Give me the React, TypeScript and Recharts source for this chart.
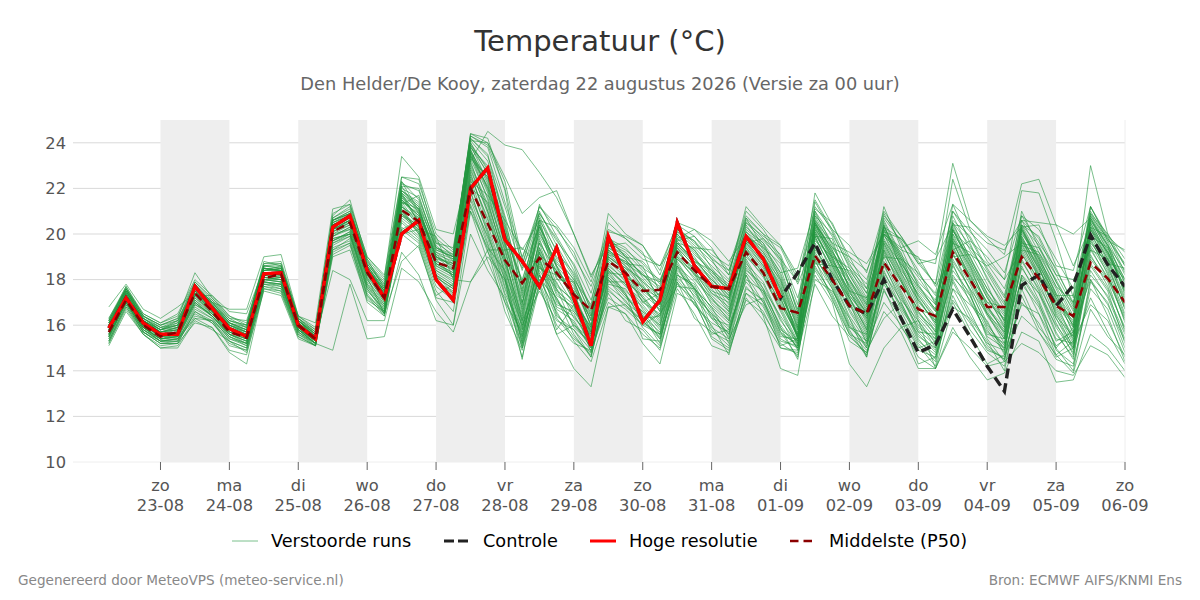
import React from "react";
import { LineChart, Line, XAxis, YAxis, CartesianGrid, ReferenceArea } from "recharts";

const dayNames = ["zo","ma","di","wo","do","vr","za","zo","ma","di","wo","do","vr","za","zo"];
const dayDates = ["23-08","24-08","25-08","26-08","27-08","28-08","29-08","30-08","31-08","01-09","02-09","03-09","04-09","05-09","06-09"];
const tickSteps = [3,7,11,15,19,23,27,31,35,39,43,47,51,55,59];
const bandStarts = [3,11,19,27,35,43,51];
const yTicks = [10,12,14,16,18,20,22,24];
const gridValues = [12,14,16,18,20,22,24];

const hres = [15.87,17.2,16.1,15.6,15.6,17.7,16.75,15.85,15.5,18.25,18.3,16.0,15.4,20.3,20.8,18.4,17.2,20.0,20.6,18.0,
  17.1,22.0,22.9,19.75,18.8,17.7,19.4,17.2,15.1,19.9,18.1,16.15,17.1,20.5,18.6,17.7,17.6,19.9,18.9,17.2];
const control = [15.87,17.2,16.1,15.6,15.6,17.7,16.75,15.85,15.5,18.25,18.3,16.0,15.4,20.3,20.8,18.4,17.2,20.0,20.6,18.0,
  17.1,22.0,22.9,19.75,18.8,17.7,19.4,17.2,15.1,19.9,18.1,16.15,17.1,20.5,18.6,17.7,17.6,19.9,18.9,17.2,
  18.3,19.6,18.0,16.85,16.5,18.0,16.3,14.8,15.15,16.7,15.5,14.2,13.1,17.75,18.2,16.85,17.75,19.95,18.65,17.7];
const p50 = [15.7,17.1,16.0,15.5,15.7,17.4,16.6,15.7,15.45,18.05,18.25,16.0,15.4,20.1,20.5,18.3,17.2,21.05,20.55,18.75,
  18.5,22.0,20.45,18.85,17.85,18.95,18.3,17.35,16.65,18.8,18.3,17.5,17.55,19.2,18.4,17.7,17.6,19.2,18.3,16.75,
  16.55,19.05,18.0,16.85,16.5,18.75,17.7,16.7,16.4,19.2,18.0,16.8,16.8,19.0,18.05,16.85,16.4,18.75,18.05,17.0];

const m01 = [15.3,16.9,15.7,15.2,15.3,16.4,16.2,15.1,14.9,17.7,17.6,15.6,15.2,14.9,17.8,15.4,15.5,18.5,17.9,16.6,
  15.7,17.9,19.0,18.0,16.0,17.5,16.2,15.8,14.6,18.0,17.0,16.4,15.2,18.6,17.2,16.3,16.0,17.9,17.0,15.6,
  15.2,18.6,17.3,15.6,15.2,17.0,16.0,14.6,14.1,15.7,15.0,14.2,14.4,15.2,14.8,14.0,13.8,15.1,14.7,13.7];
const m02 = [15.5,17.0,15.8,15.3,15.4,16.5,16.1,15.3,15.0,17.9,17.7,15.8,15.4,18.4,18.0,16.2,16.2,19.2,18.2,16.2,
  16.0,20.0,18.4,17.2,15.0,17.8,15.6,16.0,15.2,17.2,16.7,16.0,16.5,17.7,17.6,16.8,15.4,16.9,17.2,15.0,
  14.8,17.8,16.4,15.5,14.8,16.6,15.7,14.1,14.1,16.8,16.3,15.2,14.9,16.9,16.5,14.7,15.3,16.9,16.2,14.6];
const m03 = [16.8,17.8,16.7,16.3,16.8,17.4,17.0,16.7,16.7,19.0,19.1,16.4,16.1,21.1,21.3,19.0,18.1,23.4,22.5,20.2,
  20.0,23.2,24.5,23.9,23.7,22.7,21.6,20.0,18.2,19.5,19.6,18.9,18.6,19.8,20.2,19.7,18.8,19.9,19.4,18.3,
  18.5,21.1,20.5,18.8,18.0,20.3,19.8,18.7,18.9,20.4,20.3,19.6,19.3,20.6,20.5,20.4,20.0,20.7,19.5,18.4];
const m04 = [16.2,17.7,16.4,16.0,16.3,18.3,17.2,16.4,16.0,18.8,18.6,16.4,15.8,20.8,21.5,18.8,17.9,22.5,22.4,19.7,
  19.0,24.4,24.0,22.5,20.9,21.6,21.9,20.0,18.1,19.8,19.0,18.8,17.9,19.6,19.4,19.3,18.4,20.5,19.9,19.4,
  17.8,19.7,19.0,18.5,17.6,20.0,19.3,19.0,17.7,19.0,19.1,18.6,19.0,19.6,19.4,18.2,18.0,19.3,18.9,18.0];
const m05 = [15.9,17.4,16.2,15.7,15.9,17.6,16.8,16.0,15.7,18.4,18.5,16.2,15.5,20.5,20.9,18.5,17.4,22.3,21.0,19.3,
  19.0,24.2,23.5,20.5,17.8,20.0,18.8,17.8,16.0,19.2,18.6,17.9,17.0,19.6,18.9,18.2,17.6,20.0,19.2,17.9,
  15.8,20.6,19.6,18.0,16.8,20.2,18.9,17.2,16.0,20.2,18.8,17.3,15.9,20.4,19.0,17.4,15.6,20.7,19.4,18.0];
const m06 = [15.7,17.2,16.0,15.5,15.6,17.3,16.6,15.8,15.5,18.1,18.0,16.0,15.3,20.0,20.2,18.0,16.9,21.8,20.5,18.6,
  18.2,23.6,21.9,19.2,16.5,19.6,17.5,16.9,15.6,18.6,18.0,17.2,16.2,19.0,18.0,17.2,16.4,19.5,18.6,17.2,
  15.4,20.3,18.9,17.2,16.0,19.6,18.2,16.6,15.5,19.6,18.2,16.5,15.2,19.7,18.3,16.5,15.0,20.2,18.8,17.0];
const m07 = [16.0,17.5,16.3,15.8,16.0,17.7,16.9,16.1,15.8,18.5,18.4,16.2,15.6,20.6,21.0,18.9,17.6,22.0,21.6,19.5,
  18.8,24.0,22.8,20.1,17.0,20.6,18.2,17.5,15.3,19.4,18.9,17.8,16.6,19.8,19.0,17.9,16.9,19.8,18.9,17.6,
  15.5,20.5,19.3,17.6,16.3,20.0,18.6,16.9,15.7,20.0,18.5,16.9,15.6,20.1,18.7,17.0,15.3,20.5,19.1,17.5];
const m08 = [15.6,17.1,15.9,15.4,15.5,17.1,16.5,15.6,15.3,18.0,17.9,15.9,15.2,19.8,20.0,17.8,16.7,21.3,20.3,18.4,
  18.0,23.0,21.2,18.6,15.6,19.2,17.0,16.5,15.1,18.2,17.5,16.8,15.9,18.8,17.6,16.8,16.1,19.0,18.2,16.6,
  15.1,19.8,18.5,16.9,15.6,19.2,17.7,16.2,15.2,19.1,17.8,16.1,14.9,19.3,17.9,16.1,14.7,19.7,18.4,16.5];
const m09 = [16.1,17.6,16.4,15.9,16.2,17.9,17.1,16.2,15.9,18.6,18.7,16.3,15.7,20.7,21.2,18.7,17.7,22.2,21.9,19.8,
  19.2,24.3,23.8,21.4,19.0,20.9,19.8,18.4,16.8,19.6,19.2,18.4,17.6,20.1,19.4,18.6,17.9,20.3,19.6,18.5,
  16.3,21.4,20.1,18.5,17.2,21.2,19.4,17.7,16.7,21.3,19.6,18.0,16.9,21.0,19.4,17.9,16.4,21.2,19.8,18.6];
const m10 = [15.2,16.8,15.6,15.1,15.2,16.1,15.9,14.8,14.3,17.6,17.4,15.5,15.1,19.2,19.6,17.0,16.4,20.2,19.6,17.3,
  17.8,22.4,20.2,18.0,14.5,18.7,16.4,15.8,14.9,17.6,16.8,16.2,15.5,18.2,17.8,16.3,15.5,18.6,17.6,15.9,
  14.5,19.2,18.0,16.3,14.6,18.7,17.0,15.4,14.5,18.4,17.4,15.4,14.4,18.2,17.4,15.6,14.6,19.1,17.7,15.8];
const m11 = [16.3,17.7,16.5,16.1,16.5,18.0,17.3,16.4,16.1,18.7,18.8,16.4,15.9,20.9,21.3,19.0,18.2,22.5,22.2,20.0,
  19.3,24.1,24.0,22.3,18.9,21.2,20.2,19.2,17.4,20.1,19.9,19.5,18.2,20.3,19.6,19.0,18.2,21.0,20.2,19.0,
  16.9,21.8,20.4,19.0,17.6,20.8,19.9,18.8,17.8,22.4,20.2,18.8,18.0,21.9,21.8,19.7,17.2,23.0,20.0,18.6];
const m12 = [15.8,17.3,16.1,15.6,15.8,17.5,16.7,15.9,15.6,18.3,18.2,16.0,15.4,20.2,20.6,18.3,17.2,21.5,20.8,19.1,
  18.5,23.9,22.3,19.7,17.2,19.9,18.6,17.2,15.8,18.9,18.3,17.5,16.9,19.4,18.6,17.5,17.2,19.6,18.8,17.4,
  15.7,20.4,19.0,17.4,16.6,19.8,18.4,17.4,16.4,19.9,18.4,17.0,16.3,19.9,18.5,17.0,16.2,20.4,19.0,17.2];
const m13 = [15.4,17.0,15.8,15.3,15.4,16.9,16.4,15.5,15.2,17.9,17.8,15.8,15.2,19.6,19.9,17.6,16.6,21.0,20.1,18.1,
  17.6,22.9,20.9,18.2,15.2,18.9,16.7,16.2,15.0,18.0,17.2,16.6,16.0,18.5,17.4,16.5,15.8,18.4,17.8,16.2,
  15.2,19.6,18.2,16.6,15.4,19.0,17.4,15.8,15.1,18.8,17.6,15.9,15.0,18.8,17.6,15.9,14.8,19.3,18.1,16.2];
const m14 = [16.0,17.4,16.2,15.7,15.9,17.8,16.9,16.0,15.7,18.5,18.4,16.1,15.5,20.4,20.8,18.6,17.5,20.2,20.6,18.7,
  18.3,22.0,21.4,18.9,17.8,19.1,18.4,17.6,16.4,19.0,18.4,17.0,17.4,19.4,18.2,17.8,16.7,19.3,18.4,16.9,
  15.6,20.0,18.8,17.8,16.5,19.1,17.9,16.7,16.4,19.3,18.2,17.0,16.8,19.1,18.0,16.9,16.4,19.0,18.0,17.0];
const m15 = [15.5,17.1,15.9,15.4,15.5,17.2,16.5,15.7,15.4,18.0,18.1,15.9,15.3,19.9,20.3,18.1,16.5,18.8,19.5,17.1,
  16.0,21.0,19.4,18.4,16.2,18.0,17.2,16.0,15.4,18.4,17.8,16.9,16.0,18.9,18.3,16.9,16.2,18.9,17.6,16.4,
  15.3,19.3,18.3,17.2,15.8,18.6,17.2,15.9,15.4,18.2,17.1,15.6,15.4,18.5,17.4,16.0,15.0,18.4,17.2,15.4];
const m16 = [16.2,17.6,16.3,15.9,16.1,17.8,17.0,16.2,16.0,18.4,18.6,16.3,15.6,20.6,20.9,18.4,17.1,21.8,21.2,18.9,
  18.7,23.4,22.1,20.0,18.5,20.3,19.0,18.0,16.9,20.9,20.0,19.5,18.4,20.5,20.2,19.4,18.2,21.2,20.3,19.5,
  18.0,20.9,19.6,19.2,18.7,20.0,19.4,19.7,19.1,21.3,20.6,19.9,19.5,20.3,20.4,18.6,18.4,21.2,19.7,19.3];
const m17 = [15.9,17.2,16.0,15.6,15.7,17.4,16.6,15.8,15.6,18.2,18.3,16.0,15.4,20.3,20.6,18.4,17.3,20.8,20.4,18.2,
  17.4,21.5,19.5,17.0,14.6,17.7,15.6,14.1,13.3,16.8,16.5,15.2,14.3,17.4,17.0,15.5,15.0,17.4,16.9,15.4,
  15.0,18.2,17.0,14.3,13.3,15.0,15.9,16.2,14.1,15.9,14.6,13.6,13.9,15.7,15.3,13.5,13.6,15.6,15.0,14.0];
const m18 = [15.7,17.2,16.0,15.5,15.6,17.2,16.6,15.7,15.5,18.1,18.1,15.9,15.3,20.1,20.4,18.2,17.0,21.2,20.7,18.9,
  18.1,23.2,21.0,18.4,15.9,19.2,17.3,16.8,15.4,18.5,17.8,16.4,15.7,18.7,17.6,15.6,15.8,18.2,16.4,14.1,
  13.8,18.0,17.5,16.3,15.0,18.0,16.3,15.0,15.3,18.9,17.6,16.5,15.7,18.0,16.5,15.1,15.6,18.7,17.6,15.9];
const m19 = [15.8,17.3,16.1,15.6,15.7,17.6,16.7,15.9,15.5,18.3,18.2,16.1,15.4,20.2,20.6,18.4,17.4,21.4,20.9,19.2,
  18.9,24.0,22.6,19.5,16.9,20.2,18.1,16.9,15.2,19.1,18.5,18.0,17.1,19.7,18.7,18.0,17.3,19.9,19.0,17.8,
  15.4,20.7,19.2,17.9,16.7,20.4,18.7,17.5,16.6,20.5,18.9,17.6,16.5,20.3,18.9,17.6,15.9,20.6,19.3,17.4];
const m20 = [15.6,17.1,15.9,15.4,15.6,17.0,16.4,15.6,15.4,18.0,18.0,15.9,15.3,19.7,20.1,17.9,16.8,21.1,20.0,18.3,
  17.8,22.6,20.6,18.7,16.0,18.5,17.9,16.3,15.6,18.3,17.3,16.3,16.4,18.6,17.9,16.7,15.9,18.8,17.3,15.8,
  15.3,18.7,18.6,17.0,15.2,18.3,17.1,16.2,15.0,18.7,17.0,15.7,15.2,18.6,17.1,15.3,15.7,19.5,18.3,16.1];
const m21 = [16.0,17.5,16.2,15.8,16.1,17.7,17.0,16.1,15.8,18.6,18.5,16.2,15.6,20.6,20.9,18.7,17.7,21.9,21.3,19.4,
  19.1,24.4,24.2,21.9,17.6,21.0,19.5,18.2,16.4,19.3,18.7,18.6,16.9,20.0,19.2,18.3,17.7,20.7,19.4,18.7,
  16.7,21.0,19.9,18.2,16.9,20.6,19.1,18.1,17.0,20.8,19.3,18.3,17.0,20.6,19.8,18.2,16.8,20.9,19.6,17.8];
const m22 = [15.5,17.0,15.8,15.3,15.3,16.7,16.3,15.4,15.1,17.8,17.7,15.7,15.2,19.4,19.7,17.4,16.5,20.6,19.9,17.9,
  17.5,22.2,20.0,17.6,15.4,18.4,17.2,15.6,14.6,17.8,17.6,16.5,15.4,18.1,17.3,16.5,15.2,18.2,17.0,15.5,
  15.4,19.0,17.8,16.0,15.0,18.2,16.7,15.6,14.8,18.0,16.6,15.1,14.5,18.2,17.0,14.9,14.3,17.6,16.7,14.8];
const m23 = [16.1,17.5,16.3,15.8,16.0,17.6,16.8,16.0,15.8,18.4,18.4,16.1,15.5,20.4,20.7,18.6,17.6,21.7,21.1,19.0,
  18.6,23.7,22.0,19.9,18.0,20.4,18.0,17.9,16.2,19.5,19.1,18.1,17.3,19.9,19.3,18.4,17.5,20.1,19.2,18.1,
  16.1,20.2,19.2,18.2,17.0,19.9,19.2,17.0,16.2,19.6,19.2,17.8,16.1,19.5,19.2,18.0,16.6,19.9,19.4,17.6];
const m24 = [15.3,16.9,15.7,15.2,15.2,16.6,16.2,15.3,15.0,17.8,17.6,15.7,15.1,19.3,19.8,17.3,16.6,20.8,20.2,18.0,
  17.3,21.6,19.9,18.0,15.2,18.2,16.9,16.6,15.8,18.1,17.4,15.4,15.3,18.3,16.9,16.1,15.7,18.0,17.5,16.0,
  15.0,19.5,17.7,15.9,15.3,17.9,16.9,15.3,14.7,17.6,16.9,16.2,14.7,19.8,18.6,16.4,15.5,18.2,17.3,15.6];
const m25 = [15.7,17.2,16.1,15.5,15.7,17.4,16.6,15.8,15.5,18.2,18.1,16.0,15.4,20.1,20.5,18.2,17.2,21.6,20.7,18.8,
  18.4,23.3,21.6,19.3,16.7,19.4,17.7,17.1,15.9,18.8,18.1,17.7,16.6,19.2,18.5,17.6,16.6,19.4,18.5,17.1,
  15.6,20.1,18.7,17.5,16.2,19.3,18.0,16.4,15.6,19.4,18.0,16.6,15.5,19.5,18.2,16.7,15.4,19.9,18.5,16.8];
const m26 = [16.2,17.6,16.4,16.0,16.3,17.5,17.1,16.3,15.9,18.7,18.7,16.3,15.8,20.7,21.1,18.8,17.8,20.0,20.2,19.9,
  18.0,17.9,19.3,19.3,19.4,18.5,18.2,17.5,16.3,19.3,18.7,18.2,17.5,19.5,18.8,18.4,17.8,20.2,19.6,18.0,
  16.0,20.1,18.6,18.4,17.4,19.7,18.7,17.7,16.9,20.1,19.4,18.7,17.6,20.0,19.0,17.3,17.3,20.2,19.2,17.9];
const m27 = [15.1,16.6,15.6,15.0,15.0,16.2,15.8,15.3,14.8,17.5,17.3,15.4,15.1,19.0,19.3,17.1,16.6,20.0,19.4,17.2,
  17.0,21.0,18.8,17.0,15.7,18.0,16.6,15.3,14.4,16.8,16.9,16.2,15.4,18.0,17.1,15.4,14.9,17.1,16.5,15.2,
  14.7,18.8,17.6,15.8,14.6,18.0,16.4,15.1,14.2,17.9,16.4,15.3,14.0,17.6,15.9,15.0,14.0,17.9,17.0,15.0];
const m28 = [15.9,17.3,16.2,15.7,15.8,17.6,16.8,15.9,15.6,18.3,18.3,16.1,15.5,20.3,20.7,18.5,17.5,21.6,21.0,19.2,
  18.7,23.8,23.0,20.7,17.4,20.7,18.9,18.0,15.9,19.0,18.5,17.6,17.2,19.4,18.6,17.4,17.0,20.0,19.1,17.6,
  15.6,20.4,19.0,17.3,16.4,20.4,18.5,17.1,16.1,20.2,18.6,17.2,16.0,20.2,18.9,17.1,16.0,20.6,19.5,17.3];
const m29 = [15.8,17.4,16.1,15.6,15.7,17.5,16.7,16.0,15.6,18.2,18.2,16.0,15.4,20.0,20.4,18.3,17.3,21.2,20.6,18.7,
  18.3,23.5,21.8,19.0,16.1,19.4,17.6,16.6,15.5,18.7,17.9,17.3,16.3,19.1,18.2,17.1,16.5,19.2,18.3,17.0,
  15.5,20.0,18.7,17.1,15.9,19.4,17.9,16.5,15.8,19.7,18.1,16.7,15.8,19.8,18.2,16.6,15.2,20.0,18.7,16.7];
const m30 = [16.1,17.5,16.3,15.8,16.0,17.7,16.9,16.1,15.8,18.5,18.4,16.2,15.6,20.5,20.8,18.6,17.6,21.9,21.4,19.3,
  19.0,24.1,23.2,20.8,18.4,20.8,19.2,18.3,16.7,19.5,19.0,18.2,17.7,20.0,19.1,18.4,17.4,20.4,19.3,18.2,
  16.2,21.0,19.5,18.0,16.6,20.5,19.0,17.8,16.6,20.4,19.0,17.6,16.6,20.6,19.2,17.7,16.3,21.0,19.7,18.2];
const m31 = [15.6,17.0,15.9,15.5,15.5,17.1,16.4,15.6,15.3,18.1,18.0,15.9,15.3,19.9,20.2,18.0,17.0,20.9,20.3,18.4,
  17.9,22.8,21.0,18.8,16.4,20.4,18.6,17.0,15.9,19.9,19.0,18.2,17.9,20.1,19.7,18.9,18.4,20.7,20.0,19.5,
  18.2,20.4,19.4,19.0,18.4,20.1,19.8,18.9,18.7,23.1,20.6,19.8,19.1,22.2,22.4,20.4,18.6,20.3,19.9,19.2];
const m32 = [16.3,17.6,16.5,16.1,16.4,17.9,17.2,16.3,16.2,18.6,18.6,16.2,15.7,20.6,20.9,18.7,17.8,22.1,22.0,19.6,
  19.1,24.3,23.9,22.0,18.6,21.2,20.4,19.4,17.9,20.2,19.8,19.1,18.6,20.4,19.9,19.1,18.6,20.8,20.0,18.9,
  17.9,21.5,20.2,19.5,18.3,21.0,19.9,18.7,17.8,21.0,20.1,19.3,18.3,20.8,20.2,18.9,17.6,20.8,19.8,18.7];
const m33 = [15.2,16.7,15.6,15.0,15.1,16.3,15.9,14.9,14.7,17.6,17.5,15.5,15.1,19.1,19.5,17.2,16.5,20.3,19.7,17.5,
  16.6,21.3,19.3,16.6,14.9,17.9,16.0,15.2,14.9,17.0,16.5,15.6,15.0,17.6,16.5,15.1,14.8,17.2,16.2,15.0,
  14.9,18.4,17.2,15.3,14.8,17.5,16.3,14.3,14.6,17.3,15.8,14.8,14.2,17.3,15.7,14.5,14.2,18.0,16.4,14.4];
const m34 = [15.5,17.0,15.9,15.4,15.5,16.9,16.5,15.6,15.3,18.0,17.9,15.8,15.2,19.8,20.0,17.7,16.6,21.2,20.4,18.2,
  17.7,22.7,20.4,18.1,15.3,19.0,16.8,16.4,15.3,18.4,17.4,16.1,15.6,18.6,17.5,16.4,15.6,18.7,17.9,16.3,
  14.9,19.9,18.3,16.7,15.5,19.3,17.5,16.0,15.3,19.2,17.5,16.0,15.1,19.2,17.7,16.3,14.9,19.4,18.0,16.3];
const m35 = [16.0,17.4,16.2,15.7,15.9,17.5,16.8,16.1,15.7,18.4,18.5,16.1,15.5,20.4,20.8,18.5,17.5,22.1,20.9,19.1,
  18.8,23.6,22.4,20.3,17.5,20.3,18.7,17.9,16.2,19.1,18.8,18.3,17.2,19.6,18.8,18.1,17.1,19.7,19.0,17.7,
  15.9,20.6,19.1,17.7,16.5,20.1,18.8,17.3,16.3,20.0,19.0,17.4,16.2,20.2,18.6,17.3,16.1,20.3,19.2,17.6];
const m36 = [15.7,17.2,16.0,15.6,15.6,17.4,16.6,15.7,15.4,18.2,18.1,16.0,15.3,20.1,20.5,18.3,17.1,21.7,20.5,18.6,
  18.2,23.1,21.3,19.0,15.8,19.3,17.4,16.7,15.7,18.5,17.7,17.1,16.1,18.9,18.1,17.0,16.3,19.1,18.1,16.7,
  15.2,19.9,18.4,17.0,15.7,19.5,18.0,16.3,15.4,19.5,17.9,16.4,15.4,19.4,18.1,16.3,15.1,19.8,18.2,16.4];
const m37 = [15.4,17.0,15.7,15.3,15.3,16.8,16.3,15.4,15.2,17.9,17.8,15.7,15.2,19.5,19.9,17.5,16.7,20.9,20.0,17.9,
  17.4,22.1,20.1,17.7,15.5,18.6,17.6,15.9,15.2,17.9,17.9,16.7,15.8,18.2,17.7,15.9,15.4,18.3,17.4,15.7,
  15.1,18.9,17.9,16.1,15.1,18.4,16.8,15.7,15.6,18.1,17.3,15.5,15.0,18.1,16.9,15.4,15.2,18.6,17.5,15.2];
const m38 = [16.1,17.5,16.3,15.9,16.0,17.6,17.0,16.1,15.9,18.5,18.4,16.2,15.6,20.5,20.8,18.5,17.5,21.3,21.7,19.4,
  19.0,23.4,22.5,19.6,16.8,21.3,19.9,18.6,16.6,20.5,19.8,19.2,17.4,20.2,19.7,18.5,17.6,20.5,19.7,18.9,
  16.5,20.8,20.0,18.6,17.8,20.9,19.6,18.4,16.9,20.6,19.9,18.5,17.3,20.8,19.6,18.5,16.9,21.2,19.9,18.3];
const m39 = [15.8,17.3,16.0,15.6,15.7,17.5,16.6,15.8,15.5,18.2,18.2,16.0,15.4,20.2,20.5,18.3,17.3,21.4,20.4,18.5,
  18.1,23.5,21.5,18.8,16.3,19.7,18.2,17.4,15.7,18.3,18.2,17.4,16.7,19.2,18.4,17.2,16.2,19.6,18.6,17.3,
  15.8,20.5,18.9,17.5,16.1,20.0,18.3,17.1,16.1,19.8,18.6,16.8,15.9,19.9,18.4,17.2,16.0,20.3,18.9,17.1];
const m40 = [15.9,17.3,16.1,15.7,15.8,17.4,16.7,15.9,15.6,18.3,18.2,16.1,15.4,20.2,20.6,18.4,17.3,21.7,20.9,19.0,
  18.6,23.8,22.7,20.2,16.6,20.5,18.5,17.3,15.6,19.3,18.6,17.7,16.8,19.5,18.7,17.8,17.1,19.8,18.9,17.5,
  15.4,20.5,19.3,17.7,16.4,20.2,18.6,17.3,16.2,20.2,18.7,17.2,16.2,20.3,18.7,17.2,15.7,20.7,19.2,17.5];
const m41 = [16.0,17.6,16.2,15.8,16.2,17.3,17.3,16.6,16.5,18.5,18.4,16.2,15.5,20.4,20.7,18.4,17.4,21.9,21.2,19.4,
  18.9,22.3,21.7,20.6,19.3,20.6,20.3,19.0,17.7,19.8,19.4,18.5,18.0,19.7,19.9,18.9,17.6,19.6,19.8,19.1,
  17.2,19.9,19.8,17.5,17.2,19.0,18.9,18.3,17.3,19.3,19.7,19.0,18.0,19.3,19.1,17.7,17.0,19.6,18.7,18.5];
const m42 = [15.6,17.1,15.9,15.4,15.4,16.3,16.2,15.5,15.1,17.8,17.8,15.8,15.2,19.6,20.0,17.7,16.8,20.7,20.1,18.0,
  17.2,21.8,19.8,17.4,15.8,18.8,16.5,15.5,14.7,17.4,16.2,15.8,14.9,17.9,16.3,15.7,15.3,17.7,16.8,15.3,
  15.1,18.5,17.4,15.7,14.9,16.3,17.0,15.5,15.0,17.1,16.1,15.0,14.5,17.0,16.1,14.6,15.0,17.2,15.7,14.3];
const m43 = [15.3,16.8,15.7,15.2,15.2,16.6,16.1,15.2,14.9,17.7,17.5,15.6,15.1,19.3,19.6,17.3,16.4,20.5,19.8,17.7,
  17.1,21.9,19.6,17.3,15.1,18.2,16.3,15.4,14.8,17.7,17.1,15.9,15.1,17.9,16.9,16.0,14.7,17.6,17.1,15.7,
  14.6,18.9,17.1,15.6,14.7,17.6,15.9,14.9,14.6,17.0,15.6,14.3,14.7,16.4,15.7,14.7,13.9,16.7,15.5,14.7];
const m44 = [16.2,17.6,16.4,16.0,16.2,17.8,17.0,16.2,16.0,18.6,18.5,16.3,15.7,20.6,21.0,18.9,18.0,22.3,21.5,19.6,
  19.4,24.2,23.4,21.2,18.7,20.9,19.7,18.7,17.1,19.7,19.3,18.7,17.8,20.2,19.5,18.8,18.0,20.6,19.8,18.8,
  16.6,21.2,20.2,18.7,17.4,20.7,19.7,18.2,17.4,21.0,19.8,18.4,17.2,20.4,19.9,18.4,17.0,20.9,20.0,18.9];
const m45 = [15.7,17.2,16.0,15.5,15.6,17.3,16.5,15.7,15.4,18.1,18.0,15.9,15.3,19.9,20.3,18.1,17.1,21.5,20.6,18.7,
  18.2,23.7,22.2,19.4,16.2,19.8,17.8,17.0,15.5,18.9,18.2,17.0,16.5,19.0,18.3,17.3,16.6,19.4,18.2,16.8,
  15.3,20.2,18.6,17.2,15.8,19.6,18.1,16.6,15.7,19.7,18.0,16.5,15.4,19.6,18.1,16.8,15.5,20.1,18.6,16.7];
const m46 = [15.6,17.0,15.8,15.4,15.5,17.0,16.4,15.5,15.2,18.0,17.9,15.8,15.2,19.7,20.1,17.8,16.9,21.0,20.3,18.2,
  17.7,22.5,20.7,18.3,15.5,18.9,17.1,16.1,15.0,18.1,17.3,16.6,15.6,18.4,17.6,16.6,15.6,18.5,17.5,15.9,
  15.0,19.4,18.1,16.4,15.3,18.8,17.3,15.7,14.9,18.6,17.3,15.8,14.8,18.9,17.5,15.7,14.5,18.9,17.9,15.7];
const m47 = [15.9,17.4,16.2,15.7,15.8,17.6,16.8,15.9,15.7,18.3,18.3,16.1,15.5,20.3,20.7,18.5,17.4,21.8,21.1,19.0,
  18.7,23.9,22.9,20.4,17.3,20.1,18.6,17.7,16.0,19.2,18.8,17.6,16.9,19.6,18.9,18.0,17.2,19.9,19.0,18.0,
  15.9,20.5,19.1,18.0,16.9,20.3,18.9,17.6,16.7,20.3,18.8,17.4,16.4,20.2,18.8,17.4,16.3,20.5,19.1,17.7];
const m48 = [15.8,17.3,16.1,15.6,15.7,17.6,16.7,15.8,15.5,18.3,18.2,16.0,15.4,20.2,20.6,18.4,17.3,21.5,20.8,19.0,
  18.4,23.6,22.0,19.6,17.0,19.6,18.4,17.1,15.7,19.0,18.4,17.2,16.4,19.3,18.4,17.4,16.8,19.7,18.7,17.2,
  15.5,20.3,18.8,17.3,16.3,19.7,18.3,16.8,15.9,19.8,18.3,16.8,15.7,19.7,18.5,16.9,15.9,20.2,18.9,16.9];
const m49 = [15.5,17.1,15.9,15.3,15.4,17.0,16.4,15.6,15.2,17.9,17.8,15.8,15.3,19.7,20.0,17.6,16.5,20.9,20.2,18.1,
  17.6,21.2,19.2,17.9,15.0,18.3,15.8,16.9,14.8,17.5,16.9,16.0,15.6,17.8,17.1,15.8,15.1,17.4,16.6,15.1,
  15.4,19.1,17.6,15.9,15.6,17.8,16.6,15.2,14.4,17.6,16.2,14.9,14.6,17.8,16.8,15.0,15.9,18.0,16.9,15.3];
const m50 = [16.0,17.5,16.2,15.8,15.9,17.6,16.9,16.0,15.7,18.4,18.4,16.2,15.5,20.4,20.8,18.6,17.5,21.4,21.1,18.8,
  18.5,23.3,22.5,20.0,17.9,20.6,19.3,18.1,16.5,19.4,18.9,17.9,17.3,19.8,19.3,18.2,17.3,20.1,19.5,18.3,
  16.4,20.8,19.4,18.3,17.1,20.3,19.0,17.9,17.1,20.5,19.5,18.1,16.7,20.4,19.5,17.9,16.7,20.8,19.5,18.0];

const members = [m01,m02,m03,m04,m05,m06,m07,m08,m09,m10,m11,m12,m13,m14,m15,m16,m17,m18,m19,m20,m21,m22,m23,m24,m25,
  m26,m27,m28,m29,m30,m31,m32,m33,m34,m35,m36,m37,m38,m39,m40,m41,m42,m43,m44,m45,m46,m47,m48,m49,m50];

const table = control.map((c, i) => {
  const row: Record<string, number | null> = { step: i, control: c, hres: i < hres.length ? hres[i] : null, p50: p50[i] };
  members.forEach((m, k) => { row["m" + k] = m[i]; });
  return row;
});

const FONT = "'DejaVu Sans', sans-serif";
const GREEN = "#23963f";
const TICK_SIZE = 16.3;

const DayTick = (props: any) => {
  const { x, y, payload } = props;
  const idx = tickSteps.indexOf(payload.value);
  return (
    <g>
      <text x={x} y={y + 19} textAnchor="middle" fontSize={TICK_SIZE} fontFamily={FONT} fill="#555">{dayNames[idx]}</text>
      <text x={x} y={y + 39} textAnchor="middle" fontSize={TICK_SIZE} fontFamily={FONT} fill="#555">{dayDates[idx]}</text>
    </g>
  );
};

const abs = (left: number, top: number, extra: React.CSSProperties = {}): React.CSSProperties => ({
  position: "absolute", left, top, fontFamily: FONT, whiteSpace: "nowrap", lineHeight: 1, ...extra,
});

const legendItems = [
  { label: "Verstoorde runs", x: 271, lx: 232, lw: 26, color: GREEN, h: 1, dash: "", op: 0.6 },
  { label: "Controle", x: 483, lx: 444, lw: 26, color: "#222", h: 3, dash: "10 4", op: 1 },
  { label: "Hoge resolutie", x: 629, lx: 590, lw: 26, color: "#ff0000", h: 3, dash: "", op: 1 },
  { label: "Middelste (P50)", x: 829, lx: 790, lw: 22, color: "#8b0000", h: 2.5, dash: "8.5 5", op: 1 },
];

export default function App() {
  return (
    <div style={{ position: "absolute", left: 0, top: 0, width: 1200, height: 600, background: "#fff", overflow: "hidden" }}>
      <LineChart width={1200} height={600} data={table} margin={{ top: 120, right: 0, bottom: 0, left: 0 }}>
        {bandStarts.map((s) => (
          <ReferenceArea key={s} yAxisId="left" x1={s} x2={s + 4} y1={10} y2={25} fill="#eeeeee" fillOpacity={1} stroke="none" />
        ))}
        <CartesianGrid yAxisId="left" vertical={false} stroke="#d9d9d9" strokeWidth={1} horizontalValues={gridValues} />
        <XAxis
          dataKey="step" type="number" domain={[-2.08, 59]} ticks={tickSteps} interval={0} height={138}
          allowDataOverflow axisLine={{ stroke: "#eeeeee" }} tickLine={{ stroke: "#666", strokeWidth: 1 }} tickSize={8} tick={<DayTick />}
        />
        <YAxis
          yAxisId="left" domain={[10, 25]} ticks={yTicks} interval={0} width={73} axisLine={false} tickLine={false} tickMargin={1}
          tick={{ fontSize: TICK_SIZE, fontFamily: FONT, fill: "#555" }}
        />
        <YAxis
          yAxisId="right" orientation="right" domain={[10, 25]} ticks={yTicks} interval={0} width={75} axisLine={{ stroke: "#eeeeee" }} tickLine={false} tickMargin={7}
          tick={{ fontSize: TICK_SIZE, fontFamily: FONT, fill: "#555" }}
        />
        {members.map((_, k) => (
          <Line key={k} yAxisId="left" dataKey={"m" + k} stroke={GREEN} strokeWidth={1} strokeOpacity={0.6} dot={false} activeDot={false} isAnimationActive={false} legendType="none" />
        ))}
        <Line yAxisId="left" dataKey="control" stroke="#222222" strokeWidth={3.4} strokeDasharray="10 5" dot={false} activeDot={false} isAnimationActive={false} />
        <Line yAxisId="left" dataKey="hres" stroke="#ff0000" strokeWidth={3.4} dot={false} activeDot={false} isAnimationActive={false} />
        <Line yAxisId="left" dataKey="p50" stroke="#8b0000" strokeWidth={2.5} strokeDasharray="8.5 5" dot={false} activeDot={false} isAnimationActive={false} />
      </LineChart>

      <div style={abs(0, 27, { width: 1200, textAlign: "center", fontSize: 29, color: "#333" })}>Temperatuur (°C)</div>
      <div style={abs(0, 75, { width: 1200, textAlign: "center", fontSize: 17.8, color: "#666" })}>Den Helder/De Kooy, zaterdag 22 augustus 2026 (Versie za 00 uur)</div>

      {legendItems.map((it) => (
        <React.Fragment key={it.label}>
          <svg style={{ position: "absolute", left: it.lx, top: 536 }} width={it.lw} height={10}>
            <line x1={0} x2={it.lw} y1={5} y2={5} stroke={it.color} strokeWidth={it.h} strokeDasharray={it.dash} strokeOpacity={it.op} />
          </svg>
          <div style={abs(it.x, 533, { fontSize: 17.7, color: "#000" })}>{it.label}</div>
        </React.Fragment>
      ))}

      <div style={abs(18, 574, { fontSize: 13.6, color: "#888" })}>Gegenereerd door MeteoVPS (meteo-service.nl)</div>
      <div style={abs(0, 574, { left: "auto", right: 18, fontSize: 13.6, color: "#888" })}>Bron: ECMWF AIFS/KNMI Ens</div>
    </div>
  );
}
